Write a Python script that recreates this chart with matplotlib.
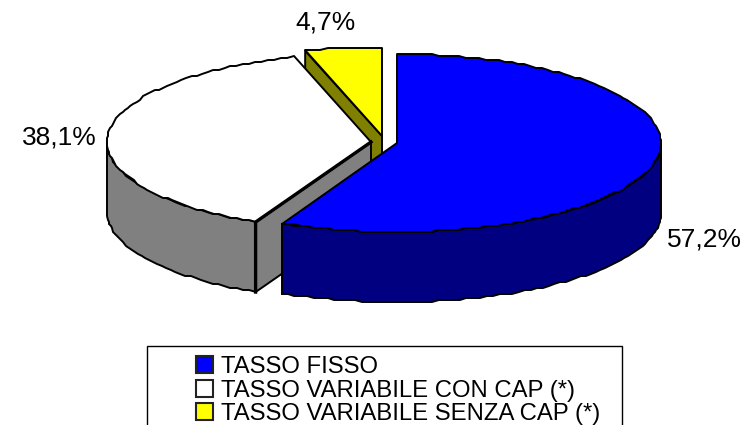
import numpy as np
import matplotlib
matplotlib.use("Agg")
import matplotlib.pyplot as plt
from matplotlib.patches import Polygon, Rectangle

plt.rcParams['font.family'] = ['Liberation Sans', 'DejaVu Sans']

# dati
categorie = ['TASSO FISSO', 'TASSO VARIABILE CON CAP (*)', 'TASSO VARIABILE SENZA CAP (*)']
quote = [57.2, 38.1, 4.7]
etichette = ['57,2%', '38,1%', '4,7%']

colori_top = ['#0000FF', '#FFFFFF', '#FFFF00']
colori_lato = ['#000080', '#808080', '#808000']

# centro di ogni fetta (pixel), la fetta gialla e' staccata
centri = [(397, 143), (371, 142), (382, 136)]
RX, RY, H = 264, 89, 70
pos_etichette = [(704, 239), (59, 138), (325, 22)]


def punto(c, ang):
    # angolo in gradi, senso orario dalle ore 12
    a = np.radians(ang)
    return c[0] + RX * np.sin(a), c[1] - RY * np.cos(a)


def arco(c, a0, a1):
    n = max(int(abs(a1 - a0) / 1.5), 2)
    pts = [punto(c, a) for a in np.linspace(a0, a1, n)]
    # bordo leggermente a gradini come nell'originale
    return [(round(x), round(y / 2) * 2) for x, y in pts]


def giu(pts):
    return [(x, y + H) for x, y in pts]


def disegna_fetta(i, a0, a1):
    c = centri[i]
    lw = 1.4
    # faccia di taglio (la prima fetta parte dalle ore 12, non si vede)
    if a0 > 0:
        p = punto(c, a0)
        faccia = [c, p, (p[0], p[1] + H), (c[0], c[1] + H)]
        ax.add_patch(Polygon(faccia, fc=colori_lato[i], ec='black', lw=lw, joinstyle='round'))
    # parete esterna (solo parte davanti, tra 90 e 270)
    b0, b1 = max(a0, 90), min(a1, 270)
    if b1 > b0:
        bordo = arco(c, b0, b1)
        ax.add_patch(Polygon(bordo + giu(bordo)[::-1], fc=colori_lato[i], ec='black', lw=lw))
    # piano superiore
    ax.add_patch(Polygon([c] + arco(c, a0, a1), fc=colori_top[i], ec='black', lw=lw, joinstyle='round'))


fig = plt.figure(figsize=(7.51, 4.25), dpi=100)
ax = fig.add_axes([0, 0, 1, 1])
ax.set_xlim(0, 751)
ax.set_ylim(425, 0)
ax.axis('off')

angoli = np.cumsum([0] + [q * 3.6 for q in quote])

# ordine: giallo, bianco, blu
for i in [2, 1, 0]:
    disegna_fetta(i, angoli[i], angoli[i + 1])

# spigolo spesso della fetta bianca
c = centri[1]
p = punto(c, angoli[1])
ax.plot([c[0], p[0], p[0]], [c[1], p[1], p[1] + H], color='black', lw=2.4, solid_joinstyle='miter')

for testo, (x, y) in zip(etichette, pos_etichette):
    ax.text(x, y, testo, fontsize=19, ha='center', va='center', color='black')

# legenda (il riquadro e' tagliato in basso)
ax.add_patch(Rectangle((147, 346), 475, 100, fc='white', ec='black', lw=1.0))
y_base = [373, 397, 420]
for nome, col, y in zip(categorie, colori_top, y_base):
    ax.add_patch(Rectangle((196, y - 17), 17, 17, fc=col, ec='#222222', lw=1.5))
    ax.text(221, y, nome, fontsize=17.2, ha='left', va='baseline', color='black')

fig.savefig('out.png', dpi=100)
